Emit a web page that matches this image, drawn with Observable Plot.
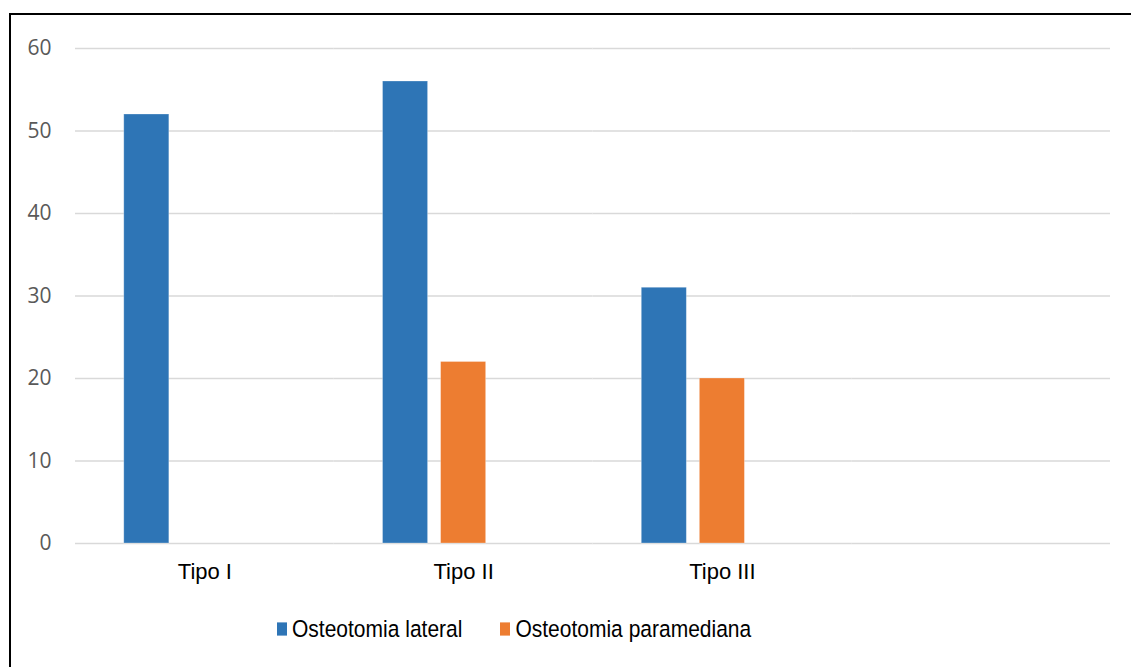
<!DOCTYPE html>
<html>
<head>
<meta charset="utf-8">
<script src="https://cdn.jsdelivr.net/npm/d3@7"></script>
<script src="https://cdn.jsdelivr.net/npm/@observablehq/plot@0.6"></script>
<style>
  html, body { margin: 0; padding: 0; background: #fff; overflow: hidden; }
  #wrap { position: relative; width: 1131px; height: 667px; }
  #frame { position: absolute; left: 9px; top: 13px; width: 1200px; height: 700px; border: 2px solid #000; box-sizing: border-box; }
  #chart { position: absolute; left: 0; top: 0; }
  #legend { position: absolute; left: 277px; top: 617px; font-family: "Liberation Sans", Arial, sans-serif; font-size: 21px; line-height: 24px; color: #000; white-space: nowrap; display: flex; align-items: center; transform-origin: 0 50%; transform: scaleY(1.1); }
  .item { display: inline-flex; align-items: center; margin-right: 38px; }
  .sw { display: inline-block; width: 10px; height: 12px; margin-right: 5px; }
</style>
</head>
<body>
<div id="wrap">
  <div id="frame"></div>
  <div id="chart"></div>
  <div id="legend"></div>
</div>
<script>
// Data
const categories = ["Tipo I", "Tipo II", "Tipo III", ""];
const series = ["Osteotomia lateral", "Osteotomia paramediana", ""];
const lateral = [52, 56, 31];
const paramediana = [0, 22, 20];
const yTicks = [0, 10, 20, 30, 40, 50, 60];

const colors = ["#2E75B6", "#ED7D31", "#A5A5A5"];

const data = [];
categories.slice(0, 3).forEach((c, i) => {
  data.push({cat: c, series: series[0], value: lateral[i]});
  data.push({cat: c, series: series[1], value: paramediana[i]});
});
// grid rows for every category facet (so the empty 4th category is drawn too)
const gridData = categories.flatMap(c => yTicks.map(t => ({cat: c, tick: t})));

const chart = Plot.plot({
  width: 1131,
  height: 600,
  marginLeft: 75,
  marginRight: 21,
  marginTop: 48,
  marginBottom: 57,
  style: {background: "transparent", overflow: "visible"},
  fx: {domain: categories, padding: 0, round: false, label: null, axis: null},
  x: {domain: series, paddingInner: 0.224, paddingOuter: 0.84, round: false, axis: null},
  y: {domain: [0, 60], axis: null},
  color: {domain: series, range: colors},
  marks: [
    Plot.ruleY(gridData, {fx: "cat", y: "tick", stroke: "#d9d9d9", strokeOpacity: 1, strokeWidth: 1.6}),
    Plot.axisY(yTicks, {anchor: "left", tickSize: 0, tickPadding: 24, label: null,
      fontSize: 21, fontFamily: "Open Sans", fill: "#595959"}),
    Plot.axisFx({anchor: "bottom", tickSize: 0, tickPadding: 20, label: null,
      fontSize: 22, fontFamily: "Liberation Sans", fill: "#000"}),
    Plot.barY(data.filter(d => d.value > 0), {fx: "cat", x: "series", y: "value", fill: "series",
      stroke: "#ffffff", strokeOpacity: 0.35, strokeWidth: 0.8})
  ]
});
document.getElementById("chart").appendChild(chart);

const legend = document.getElementById("legend");
series.filter(s => s !== "").forEach((s, i) => {
  const item = document.createElement("span");
  item.className = "item";
  const sw = document.createElement("span");
  sw.className = "sw";
  sw.style.background = colors[i];
  item.appendChild(sw);
  item.appendChild(document.createTextNode(s));
  legend.appendChild(item);
});
</script>
</body>
</html>
